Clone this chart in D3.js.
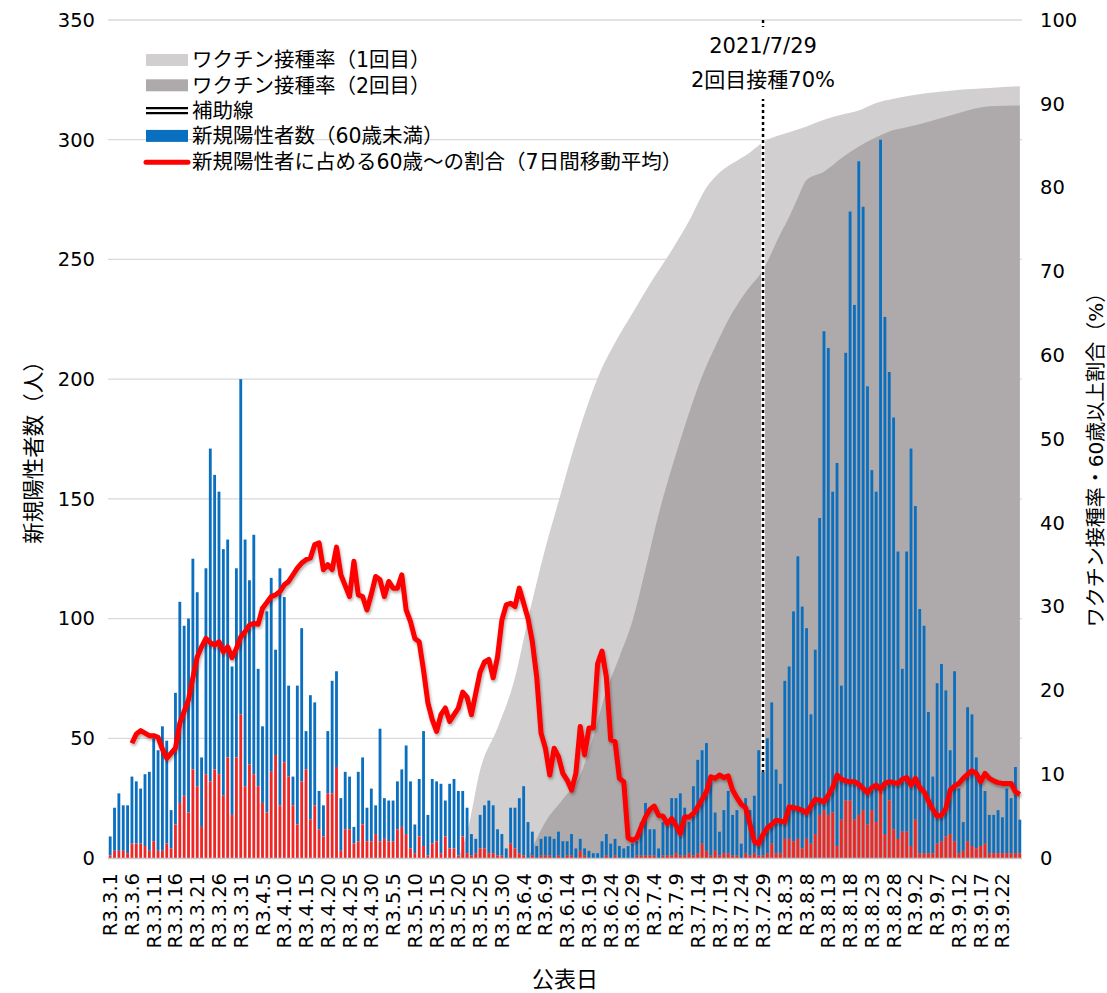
<!DOCTYPE html>
<html>
<head>
<meta charset="utf-8">
<title>新規陽性者数とワクチン接種率</title>
<style>
  body { margin: 0; background: #fff; }
  svg text { font-family: "DejaVu Sans", "Noto Sans CJK JP", sans-serif; fill: #000; }
  .grid line { stroke: #d9d9d9; stroke-width: 1.3px; }
</style>
</head>
<body>
<script src="https://cdn.jsdelivr.net/npm/d3@7"></script>
<script>
const width = 1107, height = 993;
const plot = {left: 108, right: 1022, top: 20, bottom: 858};

// days shown on the category axis: R3.3.1 .. R3.9.26
const days = d3.timeDay.range(new Date(2021, 2, 1), new Date(2021, 8, 27));
const dateLabel = d => `R3.${d.getMonth() + 1}.${d.getDate()}`;
const categories = days.map(dateLabel);
const tickEvery = 5;

// new cases per day (bar top) and the part aged 60+ (red)
const totalCases = [
  9,21,27,22,22,34,32,29,35,36,
  50,45,55,49,20,69,107,97,100,125,
  111,42,121,171,160,153,129,133,80,121,
  200,133,116,135,79,55,103,117,87,121,
  109,72,34,72,96,53,68,65,28,22,
  53,74,78,25,36,34,13,36,42,21,
  29,22,54,25,24,24,32,37,47,32,
  14,33,53,18,33,32,31,24,31,33,
  28,28,21,10,8,18,22,24,22,12,
  10,4,21,21,25,30,15,11,5,8,
  9,9,8,11,7,7,10,4,8,4,
  3,2,2,7,10,6,8,5,4,5,
  6,7,15,23,12,12,4,15,16,25,
  25,27,21,15,30,41,45,48,34,19,
  11,20,28,18,20,6,25,20,26,45,
  36,50,65,37,31,74,80,103,126,105,
  96,60,87,142,220,213,153,165,72,211,
  270,231,291,272,197,162,153,300,226,203,
  184,128,79,128,171,147,104,97,61,34,
  73,81,70,45,78,29,15,63,60,42,
  33,28,18,18,20,17,29,25,38,16
];
const over60Cases = [
  1,3,3,3,2,6,6,6,5,3,
  7,3,3,6,4,14,23,26,19,37,
  30,13,35,32,37,35,26,42,18,42,
  60,30,39,35,30,23,19,36,43,22,
  40,34,22,14,32,37,16,22,12,9,
  27,27,38,3,12,12,6,7,14,7,
  7,10,7,8,7,7,12,13,10,4,
  2,9,5,1,6,7,2,9,4,4,
  1,9,2,1,2,4,4,2,2,1,
  1,0,6,4,2,1,0,1,0,1,
  1,1,0,1,0,1,1,0,3,1,
  0,0,0,0,1,0,1,0,0,0,
  0,1,1,1,1,1,0,1,1,1,
  2,1,1,2,1,2,6,3,1,3,
  1,2,2,1,1,0,2,1,2,1,
  1,2,6,2,2,8,8,7,8,4,
  8,6,10,18,20,18,19,5,16,24,
  24,16,18,20,14,20,15,28,10,24,
  12,8,11,11,5,16,2,2,2,2,
  6,7,9,10,7,2,3,7,5,4,
  5,6,2,2,2,2,2,2,2,2
];
// share of 60+ among new cases, 7-day moving average (%)
const ratio60 = [
  null,null,null,null,null,13.7,14.8,15.2,14.9,14.6,
  14.6,14.4,13.0,11.9,12.5,13.1,16.1,17.5,18.9,21.5,
  24.0,25.2,26.2,25.7,25.4,25.8,24.6,25.2,23.9,25.0,
  26.4,27.0,27.8,28.0,27.9,29.8,30.5,31.2,31.4,31.8,
  32.6,33.0,33.8,34.6,35.2,35.6,35.8,37.4,37.6,34.4,
  35.0,34.4,37.1,33.8,32.5,31.2,35.4,31.4,31.2,29.6,
  31.5,33.6,33.2,31.2,33.0,32.2,32.2,33.8,29.6,28.2,
  26.2,25.8,22.4,18.5,16.5,15.1,17.1,17.9,16.3,17.1,
  17.9,19.8,19.2,17.1,19.7,22.2,23.4,23.7,21.5,24.0,
  28.4,30.2,30.4,30.0,32.2,30.4,28.6,25.8,21.6,14.9,
  13.1,9.9,13.1,12.1,10.1,9.3,8.1,10.1,15.7,12.3,
  15.5,15.5,23.2,24.7,21.6,14.1,13.9,9.5,9.1,2.4,
  2.1,2.4,3.7,4.9,5.8,6.2,5.1,5.0,4.1,4.7,
  3.9,2.9,4.9,4.9,5.3,6.1,7.0,7.9,9.7,9.5,
  9.9,9.6,9.8,8.1,7.2,6.4,6.0,4.0,2.0,1.7,
  2.8,3.6,4.0,4.5,4.4,4.3,6.1,6.0,5.9,5.7,
  5.4,6.2,7.0,6.9,6.7,7.5,8.4,9.9,9.4,9.2,
  9.1,9.1,8.8,8.3,7.8,8.4,8.7,8.2,8.9,9.1,
  9.0,8.9,9.4,9.6,8.7,9.5,8.4,7.9,6.8,5.8,
  5.0,5.1,5.9,8.1,8.6,8.9,9.5,10.0,10.4,10.1,
  9.1,10.1,9.5,9.2,9.0,8.9,8.9,8.9,7.9,7.6
];

// vaccination rate (%), read at these dates
const vac1Dates = ["R3.5.20","R3.5.22","R3.5.25","R3.5.29","R3.6.2","R3.6.5","R3.6.9","R3.6.12","R3.6.15","R3.6.18",
  "R3.6.22","R3.6.25","R3.6.29","R3.7.3","R3.7.8","R3.7.12","R3.7.16","R3.7.19","R3.7.22","R3.7.26",
  "R3.7.29","R3.8.4","R3.8.8","R3.8.12","R3.8.16","R3.8.20","R3.8.24","R3.8.28","R3.9.1","R3.9.7",
  "R3.9.13","R3.9.19","R3.9.26"];
const vac1Rate = [0,3,10.5,15.5,21.5,28.5,37,42.5,48,53,
  58.5,61.5,65,68.5,72.5,76,80,81.8,82.9,84.2,
  85.4,86.6,87.3,88.1,88.7,89.2,90.1,90.6,91.0,91.4,
  91.7,91.9,92.1];
const vac2Dates = ["R3.6.5","R3.6.9","R3.6.13","R3.6.17","R3.6.20","R3.6.23","R3.6.26","R3.6.29","R3.7.2","R3.7.5",
  "R3.7.8","R3.7.11","R3.7.15","R3.7.18","R3.7.21","R3.7.25","R3.7.29","R3.8.2","R3.8.4","R3.8.6",
  "R3.8.8","R3.8.12","R3.8.16","R3.8.20","R3.8.24","R3.8.27","R3.8.31","R3.9.4","R3.9.8","R3.9.12",
  "R3.9.19","R3.9.26"];
const vac2Rate = [0,4.3,7,9.9,14.5,20,24,28.3,34.5,41,
  46.5,51.5,57.5,61,64.2,67.5,70.2,74.5,76.5,78.8,
  80.9,81.9,83.5,84.9,86.0,86.7,87.2,87.7,88.3,88.9,
  89.7,89.8];

const markerDate = "R3.7.29";
const markerText = ["2021/7/29", "2回目接種70%"];

const leftTicks = d3.range(0, 351, 50);
const rightTicks = d3.range(0, 101, 10);

const svg = d3.select("body").append("svg")
  .attr("width", width)
  .attr("height", height);

const defs = svg.append("defs");
const shadow = defs.append("filter").attr("id", "shadow")
  .attr("x", "-5%").attr("y", "-5%").attr("width", "110%").attr("height", "120%");
shadow.append("feDropShadow")
  .attr("dx", 1).attr("dy", 2).attr("stdDeviation", 1.5)
  .attr("flood-color", "#000").attr("flood-opacity", 0.35);

const x = d3.scaleBand()
  .domain(categories)
  .range([plot.left, plot.right])
  .paddingInner(0.35)
  .paddingOuter(0.175);
const cx = c => x(c) + x.bandwidth() / 2;

const yL = d3.scaleLinear().domain([0, 350]).range([plot.bottom, plot.top]);
const yR = d3.scaleLinear().domain([0, 100]).range([plot.bottom, plot.top]);

// gridlines
svg.append("g").attr("class", "grid")
  .selectAll("line")
  .data(leftTicks.slice(1))
  .join("line")
  .attr("x1", plot.left).attr("x2", plot.right)
  .attr("y1", d => yL(d)).attr("y2", d => yL(d));

// vaccination areas (right axis)
const area = d3.area()
  .x(d => cx(d[0]))
  .y0(yR(0))
  .y1(d => yR(d[1]))
  .curve(d3.curveMonotoneX);

svg.append("path")
  .datum(d3.zip(vac1Dates, vac1Rate))
  .attr("fill", "#d1cfd0")
  .attr("d", area);
svg.append("path")
  .datum(d3.zip(vac2Dates, vac2Rate))
  .attr("fill", "#aeaaab")
  .attr("d", area);

// bars
const rows = categories.map((c, i) => ({c, total: totalCases[i], over60: over60Cases[i], ratio: ratio60[i]}));

svg.append("g").selectAll("rect")
  .data(rows)
  .join("rect")
  .attr("x", d => x(d.c))
  .attr("width", x.bandwidth())
  .attr("y", d => yL(d.total))
  .attr("height", d => yL(d.over60) - yL(d.total))
  .attr("fill", "#0b6fbf");

svg.append("g").selectAll("rect")
  .data(rows)
  .join("rect")
  .attr("x", d => x(d.c))
  .attr("width", x.bandwidth())
  .attr("y", d => yL(d.over60))
  .attr("height", d => yL(0) - yL(d.over60))
  .attr("fill", "#ee2626");

// category axis line
svg.append("line")
  .attr("x1", plot.left).attr("x2", plot.right)
  .attr("y1", plot.bottom + 0.5).attr("y2", plot.bottom + 0.5)
  .attr("stroke", "#c6c6c6").attr("stroke-width", 1.5);

// auxiliary line at 7/29
const mx = cx(markerDate);
svg.append("line")
  .attr("x1", mx).attr("x2", mx)
  .attr("y1", plot.top).attr("y2", 772)
  .attr("stroke", "#fff").attr("stroke-width", 4);
svg.append("line")
  .attr("x1", mx).attr("x2", mx)
  .attr("y1", plot.top).attr("y2", 772)
  .attr("stroke", "#000").attr("stroke-width", 2.5)
  .attr("stroke-dasharray", "3 3");

svg.append("rect")
  .attr("x", mx - 80).attr("y", 27)
  .attr("width", 160).attr("height", 72)
  .attr("fill", "#fff");
svg.selectAll(".marker-text")
  .data(markerText)
  .join("text")
  .attr("class", "marker-text")
  .attr("x", mx)
  .attr("y", (d, i) => 53 + i * 34)
  .attr("text-anchor", "middle")
  .attr("font-size", 21)
  .text(d => d);

// 60+ share line
const line = d3.line()
  .defined(d => d.ratio != null)
  .x(d => cx(d.c))
  .y(d => yR(d.ratio));

svg.append("path")
  .datum(rows)
  .attr("fill", "none")
  .attr("stroke", "#ff0000")
  .attr("stroke-width", 5)
  .attr("stroke-linejoin", "round")
  .attr("filter", "url(#shadow)")
  .attr("d", line);

// axes labels
svg.append("g").selectAll("text")
  .data(leftTicks)
  .join("text")
  .attr("x", 95)
  .attr("y", d => yL(d))
  .attr("dy", "0.35em")
  .attr("text-anchor", "end")
  .attr("font-size", 19.5)
  .text(d => d);

svg.append("g").selectAll("text")
  .data(rightTicks)
  .join("text")
  .attr("x", 1040)
  .attr("y", d => yR(d))
  .attr("dy", "0.35em")
  .attr("text-anchor", "start")
  .attr("font-size", 19.5)
  .text(d => d);

svg.append("g").selectAll("text")
  .data(categories.filter((c, i) => i % tickEvery === 0))
  .join("text")
  .attr("transform", d => `translate(${cx(d) + 7},873) rotate(-90)`)
  .attr("text-anchor", "end")
  .attr("font-size", 19.5)
  .text(d => d);

svg.append("text")
  .attr("transform", "translate(41,447) rotate(-90)")
  .attr("text-anchor", "middle")
  .attr("font-size", 21.5)
  .text("新規陽性者数（人）");

svg.append("text")
  .attr("transform", "translate(1103,455) rotate(-90)")
  .attr("text-anchor", "middle")
  .attr("font-size", 20)
  .text("ワクチン接種率・60歳以上割合（%）");

svg.append("text")
  .attr("x", 565).attr("y", 987)
  .attr("text-anchor", "middle")
  .attr("font-size", 22)
  .text("公表日");

// legend
const legendItems = [
  {label: "ワクチン接種率（1回目）", type: "rect", color: "#d1cfd0"},
  {label: "ワクチン接種率（2回目）", type: "rect", color: "#aeaaab"},
  {label: "補助線", type: "double", color: "#000"},
  {label: "新規陽性者数（60歳未満）", type: "rect", color: "#0b6fbf"},
  {label: "新規陽性者に占める60歳～の割合（7日間移動平均）", type: "line", color: "#ff0000"}
];

const legend = svg.append("g").attr("transform", "translate(146,60)");
const item = legend.selectAll("g")
  .data(legendItems)
  .join("g")
  .attr("transform", (d, i) => `translate(0,${i * 25.3})`);

item.filter(d => d.type === "rect").append("rect")
  .attr("x", 0).attr("y", -6)
  .attr("width", 42).attr("height", 12)
  .attr("fill", d => d.color);
item.filter(d => d.type === "double").each(function() {
  const g = d3.select(this);
  [-2.5, 2.5].forEach(dy => g.append("line")
    .attr("x1", 0).attr("x2", 42)
    .attr("y1", dy).attr("y2", dy)
    .attr("stroke", "#000").attr("stroke-width", 2.2));
});
item.filter(d => d.type === "line").append("line")
  .attr("x1", 0).attr("x2", 42)
  .attr("y1", 1).attr("y2", 1)
  .attr("stroke", d => d.color)
  .attr("stroke-width", 5)
  .attr("stroke-linecap", "round");

item.append("text")
  .attr("x", 46)
  .attr("y", 0)
  .attr("dy", "0.36em")
  .attr("font-size", 20.5)
  .attr("font-family", "'Noto Sans CJK JP', sans-serif")
  .text(d => d.label);
</script>
</body>
</html>
